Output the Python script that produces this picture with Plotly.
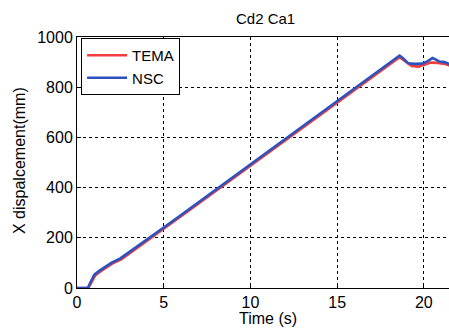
import plotly.graph_objects as go

# Data
t_tema = [0, 0.65, 0.85, 1.05, 1.35, 1.75, 2.05, 2.55, 3.0, 4.0, 5.0, 6.0, 8.0, 10.0, 12.0, 14.0, 16.0, 18.0, 18.6,
          18.9, 19.3, 19.7, 20.0, 20.4, 20.8, 21.2, 21.6]
v_tema = [0, 0, 24, 50, 66, 86, 98, 114, 137, 186, 236, 286, 387, 487, 588, 689, 790, 890, 920,
          905, 885, 882, 888, 898, 897, 893, 884]

t_nsc = [0, 0.62, 0.8, 1.0, 1.3, 1.7, 2.0, 2.5, 3.0, 4.0, 5.0, 6.0, 8.0, 10.0, 12.0, 14.0, 16.0, 18.0, 18.6,
         18.8, 19.1, 19.5, 19.9, 20.2, 20.5, 20.7, 20.9, 21.2, 21.6]
v_nsc = [0, 0, 26, 53, 69, 89, 101, 118, 142, 191, 241, 291, 392, 492, 593, 694, 795, 895, 926,
         915, 895, 893, 894, 903, 916, 910, 902, 900, 888]

x_ticks = [0, 5, 10, 15, 20]
y_ticks = [0, 200, 400, 600, 800, 1000]

fig = go.Figure()
fig.add_trace(go.Scatter(x=t_tema, y=v_tema, mode="lines", name="TEMA",
                         line=dict(color="#f03c3c", width=2.6)))
fig.add_trace(go.Scatter(x=t_nsc, y=v_nsc, mode="lines", name="NSC",
                         line=dict(color="#2a52c0", width=2.6)))

fam = "Liberation Sans, Arial, sans-serif"
font = dict(family=fam, size=16, color="black")

fig.update_layout(
    width=449, height=328,
    margin=dict(l=77, r=0, t=37, b=40),
    paper_bgcolor="white", plot_bgcolor="white",
    font=font,
    showlegend=True,
    legend=dict(x=0.011, y=0.996, xanchor="left", yanchor="top",
                bordercolor="black", borderwidth=1, bgcolor="white",
                font=dict(size=15), tracegroupgap=0, itemwidth=40),
    annotations=[
        dict(text="Cd2 Ca1", x=0.508, xref="paper", y=1.0, yref="paper",
             yshift=19, showarrow=False, yanchor="middle", font=dict(size=15)),
        dict(text="Time (s)", x=0.513, xref="paper", y=0, yref="paper",
             yshift=-30, showarrow=False, yanchor="middle", font=dict(size=16)),
        dict(text="X dispalcement(mm)", x=0, xref="paper", y=0.506, yref="paper",
             xshift=-57, showarrow=False, xanchor="center", yanchor="middle",
             textangle=-90, font=dict(size=16)),
    ],
)
fig.update_xaxes(range=[0, 21.45], tickvals=x_ticks, showgrid=True,
                 gridcolor="black", griddash="dot", gridwidth=1,
                 showline=True, linecolor="black", linewidth=1, mirror=True,
                 ticks="inside", ticklen=4, tickcolor="black",
                 zeroline=False, automargin=False,
                 tickfont=dict(size=16))
fig.update_yaxes(range=[0, 1000], tickvals=y_ticks, showgrid=True,
                 gridcolor="black", griddash="dot", gridwidth=1,
                 showline=True, linecolor="black", linewidth=1, mirror=True,
                 ticks="inside", ticklen=4, tickcolor="black",
                 zeroline=False, automargin=False,
                 tickfont=dict(size=16))

fig.write_html("out.html", config={"displayModeBar": False},
               post_script="document.body.style.margin='0px';document.body.style.overflow='hidden';")
